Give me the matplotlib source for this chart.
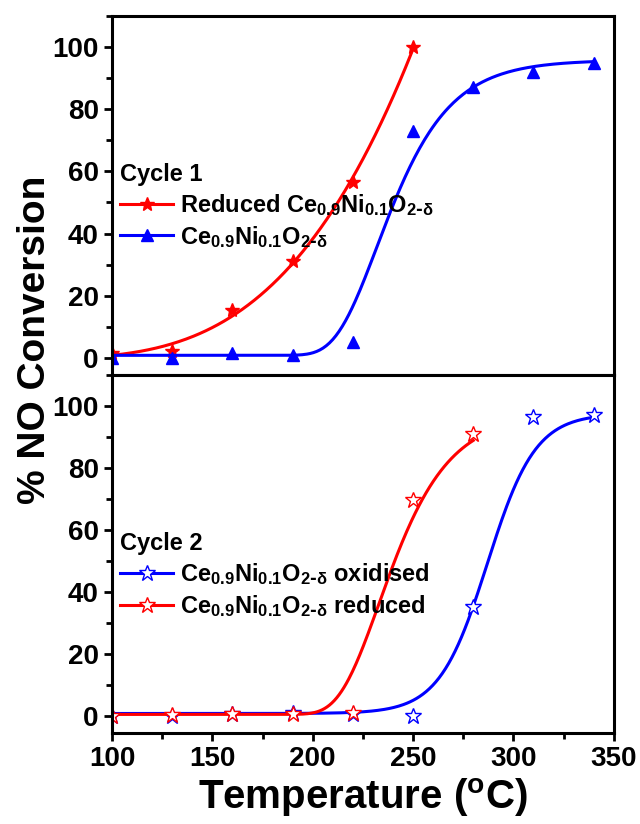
import matplotlib.pyplot as plt
import numpy as np
from matplotlib.ticker import MultipleLocator

plt.rcParams['font.family'] = ['Liberation Sans', 'DejaVu Sans']
plt.rcParams['font.weight'] = 'bold'
plt.rcParams['mathtext.fontset'] = 'custom'
plt.rcParams['mathtext.default'] = 'regular'

######## data
temp1 = [100, 130, 160, 190, 220, 250]
reduced1 = [1.5, 2.3, 15.4, 31, 56.5, 100]
temp1b = [100, 130, 160, 190, 220, 250, 280, 310, 340]
fresh1 = [0, 0, 1.5, 1, 5, 73, 87, 92, 95]

temp2 = [100, 130, 160, 190, 220, 250, 280, 310, 340]
oxid2 = [0, 0, 0.5, 1, 0.5, 0, 35, 96.5, 97]
temp2r = [100, 130, 160, 190, 220, 250, 280]
red2 = [0, 0.3, 0.7, 0.5, 0.8, 69.5, 91]

# fitted curve params (base, amplitude, centre, width), estimated from the drawn curves
fit_fresh1 = (0.8, 95, 232, 20.5)     # gompertz
fit_red2 = (0.5, 97, 233, 19.8)       # gompertz
fit_oxid2 = (0.8, 96.7, 287, 12)      # logistic

CE = r'Ce$_{0.9}$Ni$_{0.1}$O$_{2\text{-}\delta}$'


def gompertz(x, p):
    base, amp, xm, s = p
    return base + amp * np.exp(-np.exp(-(x - xm) / s))


def logistic(x, p):
    base, amp, x0, k = p
    return base + amp / (1 + np.exp(-(x - x0) / k))


def style(ax):
    ax.set_xlim(100, 350)
    ax.set_ylim(-5.5, 110)
    ax.yaxis.set_major_locator(MultipleLocator(20))
    ax.yaxis.set_minor_locator(MultipleLocator(10))
    ax.xaxis.set_major_locator(MultipleLocator(50))
    ax.xaxis.set_minor_locator(MultipleLocator(25))
    ax.tick_params(which='major', length=6, width=2, labelsize=20, direction='out')
    ax.tick_params(which='minor', length=4, width=2, direction='out')
    for s in ax.spines.values():
        s.set_linewidth(2.2)


fig = plt.figure(figsize=(6.4, 8.24), dpi=100)
ax1 = fig.add_axes([0.175, 0.545, 0.784, 0.4356])
ax2 = fig.add_axes([0.175, 0.1104, 0.784, 0.4346])

legkw = dict(loc='upper left', frameon=False, fontsize=17, title_fontsize=17,
             handlelength=2.25, handletextpad=0.3, labelspacing=0.25,
             borderaxespad=0.2)

##### top panel
xs = np.linspace(100, 250, 200)
coef = np.polyfit(temp1, reduced1, 3)
ax1.plot(xs, np.polyval(coef, xs), color='red', lw=2.2)
ax1.plot(temp1, reduced1, '*', color='red', ms=10)
xb = np.linspace(100, 340, 300)
ax1.plot(xb, gompertz(xb, fit_fresh1), color='blue', lw=2.2)
ax1.plot(temp1b, fresh1, '^', color='blue', ms=9)
h1 = [ax1.plot([], [], '-*', color='red', lw=2.2, ms=10)[0],
      ax1.plot([], [], '-^', color='blue', lw=2.2, ms=9)[0]]
leg1 = ax1.legend(h1, ['Reduced ' + CE, CE], title='Cycle 1',
                  bbox_to_anchor=(-0.012, 0.63), **legkw)
leg1._legend_box.align = 'left'
style(ax1)
ax1.tick_params(axis='x', which='both', bottom=False, labelbottom=False)

##### bottom panel
xo = np.linspace(100, 340, 300)
ax2.plot(xo, logistic(xo, fit_oxid2), color='blue', lw=2.2)
ax2.plot(temp2, oxid2, '*', mfc='white', mec='blue', ms=12, mew=1)
xr = np.linspace(100, 280, 300)
ax2.plot(xr, gompertz(xr, fit_red2), color='red', lw=2.2)
ax2.plot(temp2r, red2, '*', mfc='white', mec='red', ms=12, mew=1)
h2 = [ax2.plot([], [], '-*', color='blue', mfc='white', mec='blue', lw=2.2, ms=12, mew=1)[0],
      ax2.plot([], [], '-*', color='red', mfc='white', mec='red', lw=2.2, ms=12, mew=1)[0]]
leg2 = ax2.legend(h2, [CE + ' oxidised', CE + ' reduced'], title='Cycle 2',
                  bbox_to_anchor=(-0.012, 0.6), **legkw)
leg2._legend_box.align = 'left'
style(ax2)

fig.text(0.055, 0.587, '% NO Conversion', rotation=90, ha='center', va='center',
         fontsize=28, fontweight='bold')
fig.text(0.567, 0.032, r'Temperature ($^{o}$C)', ha='center', va='center',
         fontsize=29, fontweight='bold')

plt.savefig('out.png', dpi=100)
